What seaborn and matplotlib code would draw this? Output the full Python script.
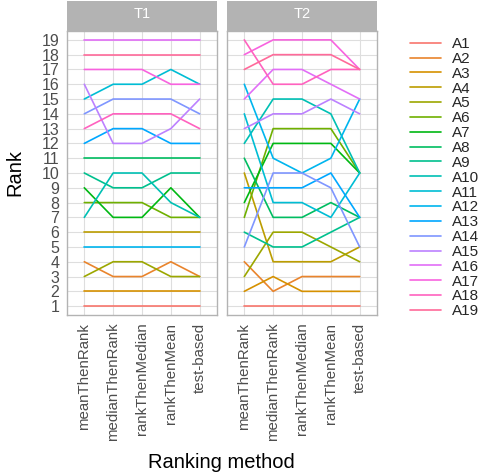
import numpy as np
import pandas as pd
import matplotlib
matplotlib.use("Agg")
import matplotlib.pyplot as plt
from matplotlib.patches import Rectangle
from matplotlib.lines import Line2D
import seaborn as sns

# ---------------- data ----------------
methods = ["meanThenRank", "medianThenRank", "rankThenMedian", "rankThenMean", "test-based"]
tasks = ["T1", "T2"]
algorithms = ["A1", "A2", "A3", "A4", "A5", "A6", "A7", "A8", "A9", "A10",
              "A11", "A12", "A13", "A14", "A15", "A16", "A17", "A18", "A19"]

# ranks per algorithm, one value per method (in `methods` order)
ranks_T1 = {
    "A1": [1, 1, 1, 1, 1],
    "A2": [4, 3, 3, 4, 3],
    "A3": [2, 2, 2, 2, 2],
    "A4": [6, 6, 6, 6, 6],
    "A5": [3, 4, 4, 3, 3],
    "A6": [8, 8, 8, 7, 7],
    "A7": [9, 7, 7, 9, 7],
    "A8": [11, 11, 11, 11, 11],
    "A9": [10, 9, 9, 10, 10],
    "A10": [7, 10, 10, 8, 7],
    "A11": [15, 16, 16, 17, 16],
    "A12": [5, 5, 5, 5, 5],
    "A13": [12, 13, 13, 12, 12],
    "A14": [14, 15, 15, 15, 14],
    "A15": [16, 12, 12, 13, 15],
    "A16": [19, 19, 19, 19, 19],
    "A17": [17, 17, 17, 16, 16],
    "A18": [13, 14, 14, 14, 13],
    "A19": [18, 18, 18, 18, 18],
}
ranks_T2 = {
    "A1": [1, 1, 1, 1, 1],
    "A2": [4, 2, 3, 3, 3],
    "A3": [2, 3, 2, 2, 2],
    "A4": [10, 4, 4, 4, 5],
    "A5": [3, 6, 6, 5, 4],
    "A6": [7, 13, 13, 13, 10],
    "A7": [8, 12, 12, 12, 10],
    "A8": [11, 7, 7, 8, 7],
    "A9": [6, 5, 5, 6, 7],
    "A10": [12, 15, 15, 14, 10],
    "A11": [14, 8, 8, 7, 10],
    "A12": [16, 11, 10, 11, 15],
    "A13": [9, 9, 9, 10, 7],
    "A14": [5, 10, 10, 9, 5],
    "A15": [13, 14, 14, 15, 14],
    "A16": [15, 17, 17, 16, 15],
    "A17": [18, 19, 19, 19, 17],
    "A18": [19, 16, 16, 17, 17],
    "A19": [17, 18, 18, 18, 17],
}
rank_ticks = list(range(1, 20))

rows = []
for task, table in zip(tasks, [ranks_T1, ranks_T2]):
    for alg in algorithms:
        for m, r in zip(methods, table[alg]):
            rows.append({"task": task, "algorithm": alg, "method": m, "rank": r})
df = pd.DataFrame(rows)


# ---------------- ggplot-like hue palette ----------------
def hcl_hex(h, c=100.0, l=65.0):
    hr = np.deg2rad(h)
    u, v = c * np.cos(hr), c * np.sin(hr)
    Xn, Yn, Zn = 95.047, 100.0, 108.883
    un = 4 * Xn / (Xn + 15 * Yn + 3 * Zn)
    vn = 9 * Yn / (Xn + 15 * Yn + 3 * Zn)
    Y = Yn * ((l + 16) / 116) ** 3
    up = u / (13 * l) + un
    vp = v / (13 * l) + vn
    X = Y * 9 * up / (4 * vp)
    Z = Y * (12 - 3 * up - 20 * vp) / (4 * vp)
    X, Y, Z = X / 100, Y / 100, Z / 100
    r = 3.2404542 * X - 1.5371385 * Y - 0.4985314 * Z
    g = -0.9692660 * X + 1.8760108 * Y + 0.0415560 * Z
    b = 0.0556434 * X - 0.2040259 * Y + 1.0572252 * Z

    def gam(t):
        t = min(max(t, 0.0), 1.0)
        return 12.92 * t if t <= 0.0031308 else 1.055 * t ** (1 / 2.4) - 0.055

    return tuple(gam(t) for t in (r, g, b))


n = len(algorithms)
hues = np.linspace(15, 375, n + 1)[:-1]
palette = {a: hcl_hex(h) for a, h in zip(algorithms, hues)}

# ---------------- figure ----------------
sns.set_theme(style="white")
plt.rcParams["font.family"] = ["Liberation Sans", "DejaVu Sans"]

W, H = 490, 476
fig = plt.figure(figsize=(W / 100, H / 100), dpi=100)

panel_left = [67, 227]
panel_w = 150
panel_top, panel_bot = 31, 315
strip_top = 1

grey70 = "#B3B3B3"
grey87 = "#DEDEDE"

for i, task in enumerate(tasks):
    x0 = panel_left[i]
    ax = fig.add_axes([x0 / W, 1 - panel_bot / H, panel_w / W, (panel_bot - panel_top) / H])
    sub = df[df["task"] == task]
    sns.lineplot(data=sub, x="method", y="rank", hue="algorithm", hue_order=algorithms,
                 palette=palette, sort=False, estimator=None, legend=False,
                 linewidth=1.2, ax=ax, zorder=3)
    ax.set_xlim(-0.6, len(methods) - 0.4)
    ax.set_ylim(0.4, 19.6)
    ax.set_yticks(rank_ticks)
    ax.set_xticks(range(len(methods)))
    ax.set_xticklabels(methods, rotation=90)
    ax.grid(True, color=grey87, linewidth=0.8, zorder=0)
    ax.set_axisbelow(True)
    for s in ax.spines.values():
        s.set_color(grey70)
        s.set_linewidth(1.0)
    ax.tick_params(axis="both", direction="out", length=3.5, width=0.8, color=grey70,
                   labelcolor="#4D4D4D", labelsize=11.5, pad=2)
    ax.tick_params(axis="x", labelsize=10.8)
    ax.set_xlabel("")
    ax.set_ylabel("")
    if i > 0:
        ax.tick_params(axis="y", labelleft=False)
    # strip
    strip = Rectangle((x0 / W, 1 - panel_top / H), panel_w / W, (panel_top - strip_top) / H,
                      transform=fig.transFigure, facecolor=grey70, edgecolor=grey70,
                      linewidth=0, zorder=0)
    fig.patches.append(strip)
    fig.text((x0 + panel_w / 2) / W, 1 - ((panel_top + strip_top) / 2 - 2) / H, task,
             color="white", fontsize=10.5, ha="center", va="center")

# axis titles
fig.text((67 + 376) / 2 / W, 1 - 462 / H, "Ranking method", fontsize=14.5,
         ha="center", va="center", color="black")
fig.text(15 / W, 1 - 173 / H, "Rank", fontsize=14.5, rotation=90,
         ha="center", va="center", color="black")

# legend
handles = [Line2D([0], [0], color=palette[a], linewidth=1.2) for a in algorithms]
fig.legend(handles, algorithms, loc="upper left", bbox_to_anchor=(404 / W, 1 - 31 / H),
           frameon=False, fontsize=11, labelspacing=0.055, handlelength=2.0,
           handletextpad=0.75, borderaxespad=0, borderpad=0.4)

fig.savefig("out.png", dpi=100)
